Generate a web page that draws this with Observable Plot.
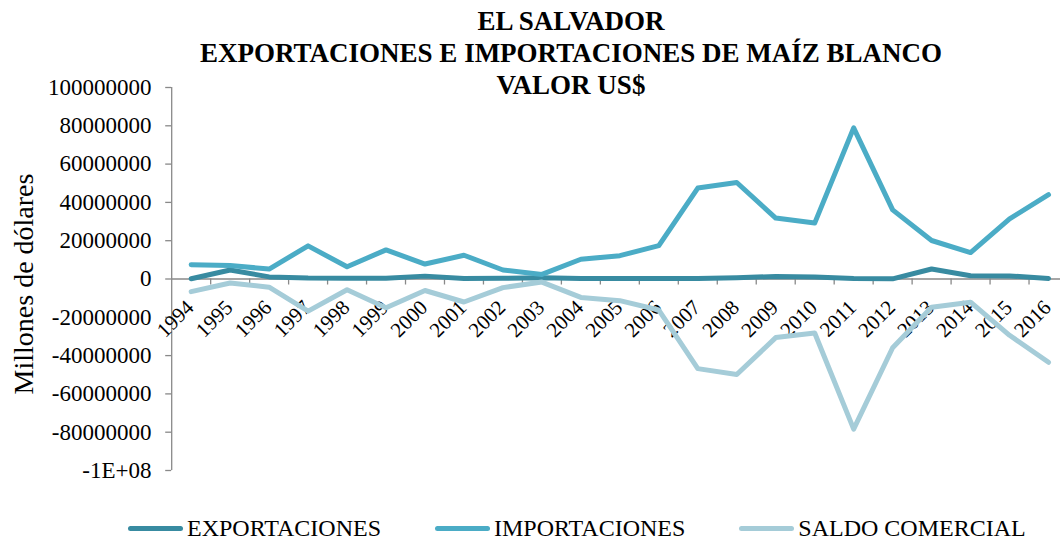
<!DOCTYPE html>
<html>
<head>
<meta charset="utf-8">
<script src="https://cdn.jsdelivr.net/npm/d3@7"></script>
<script src="https://cdn.jsdelivr.net/npm/@observablehq/plot@0.6"></script>
<style>
  body { margin: 0; background: #fff; }
  #wrap { position: relative; width: 1060px; height: 544px; overflow: hidden; font-family: "Liberation Serif", "Times New Roman", serif; color: #000; }
  #chart svg { position: absolute; left: 0; top: 0; }
  #title { position: absolute; left: 0; top: 0; width: 1142px; padding-top: 5px; text-align: center; font-weight: bold; font-size: 27px; line-height: 32px; }
  #legend { position: absolute; left: 128px; top: 518px; display: flex; align-items: center; font-size: 24px; line-height: 20px; white-space: nowrap; }
  .item { display: flex; align-items: center; margin-right: 54px; }
  .swatch { width: 55px; height: 5px; border-radius: 3px; margin-right: 4px; }
</style>
</head>
<body>
<div id="wrap">
  <div id="chart"></div>
  <div id="title"></div>
  <div id="legend"></div>
</div>
<script>
const titleLines = ["EL SALVADOR", "EXPORTACIONES E IMPORTACIONES DE MAÍZ BLANCO", "VALOR US$"];
const yAxisLabel = "Millones de dólares";

const years = [1994, 1995, 1996, 1997, 1998, 1999, 2000, 2001, 2002, 2003, 2004, 2005,
               2006, 2007, 2008, 2009, 2010, 2011, 2012, 2013, 2014, 2015, 2016];

const exportaciones = [100000, 4700000, 1100000, 500000, 400000, 400000, 1500000, 200000, 400000, 600000, 200000, 200000,
                       200000, 300000, 700000, 1300000, 1000000, 200000, 100000, 5200000, 1700000, 1600000, 300000];

const importaciones = [7500000, 7000000, 5200000, 17300000, 6400000, 15200000, 7800000, 12400000, 4700000, 2400000, 10300000, 12200000,
                       17400000, 47500000, 50400000, 31800000, 29200000, 78900000, 36100000, 20100000, 13800000, 31400000, 44000000];

const saldoComercial = [-6600000, -2100000, -4300000, -16800000, -5600000, -15000000, -6000000, -12000000, -4500000, -1600000, -9600000, -11300000,
                        -16200000, -46800000, -49900000, -30600000, -28200000, -78400000, -35900000, -14700000, -12100000, -29400000, -43500000];

const seriesNames = ["EXPORTACIONES", "IMPORTACIONES", "SALDO COMERCIAL"];
const seriesColors = ["#388ba1", "#4bacc6", "#a5ccd8"];

const yTickValues = [100000000, 80000000, 60000000, 40000000, 20000000, 0, -20000000, -40000000, -60000000, -80000000, -100000000];
const yTickLabels = ["100000000", "80000000", "60000000", "40000000", "20000000", "0", "-20000000", "-40000000", "-60000000", "-80000000", "-1E+08"];

const seriesValues = [exportaciones, importaciones, saldoComercial];
const rows = seriesNames.flatMap((name, s) =>
  years.map((year, i) => ({ serie: name, year, value: seriesValues[s][i] })));

const categoryBounds = years.slice(0, -1).map(y => y + 0.5);
const xStart = years[0] - 0.5;
const axisGray = "#898989";
const serif = '"Liberation Serif", "Times New Roman", serif';

const chart = Plot.plot({
  width: 1060,
  height: 544,
  marginTop: 87,
  marginBottom: 74,
  marginLeft: 172,
  marginRight: 0,
  style: { fontFamily: serif, background: "transparent", color: "#000", overflow: "visible" },
  x: { type: "linear", domain: [xStart, years[years.length - 1] + 0.5], range: [171.2, 1067.5], axis: null },
  y: { domain: [-100000000, 100000000], axis: null },
  color: { domain: seriesNames, range: seriesColors },
  marks: [
    // y axis line and ticks
    Plot.ruleX([xStart], { stroke: axisGray, strokeWidth: 1.3 }),
    Plot.ruleY(yTickValues, { y: d => d, x1: () => xStart, x2: () => xStart, insetLeft: -6, stroke: axisGray, strokeWidth: 1.3 }),
    Plot.text(yTickValues, { y: d => d, frameAnchor: "left", textAnchor: "end", dx: -21, text: (d, i) => yTickLabels[i], fontSize: 23, fill: "#000", fontFamily: serif }),
    // zero line with category ticks
    Plot.ruleY([0], { stroke: axisGray, strokeWidth: 1.3 }),
    Plot.ruleX(categoryBounds, { x: d => d, y1: () => 0, y2: () => 0, insetTop: 0, insetBottom: -6, stroke: axisGray, strokeWidth: 1.3 }),
    Plot.text(years, { x: d => d, y: () => 0, text: d => String(d), rotate: -45, textAnchor: "end", fontSize: 21, dx: -1, dy: 25, fill: "#000", fontFamily: serif }),
    // y axis title
    Plot.text([yAxisLabel], { frameAnchor: "left", textAnchor: "middle", text: d => d, rotate: -90, fontSize: 28, dx: -148, dy: 5, fill: "#000", fontFamily: serif }),
    // series
    Plot.line(rows, { x: "year", y: "value", z: "serie", stroke: "serie", strokeWidth: 5, strokeLinejoin: "round", strokeLinecap: "round" })
  ]
});
document.getElementById("chart").appendChild(chart);

document.getElementById("title").innerHTML = titleLines.map(t => `<div>${t}</div>`).join("");
document.getElementById("legend").innerHTML = seriesNames.map((n, i) =>
  `<div class="item"><div class="swatch" style="background:${seriesColors[i]}"></div><span>${n}</span></div>`).join("");
</script>
</body>
</html>
